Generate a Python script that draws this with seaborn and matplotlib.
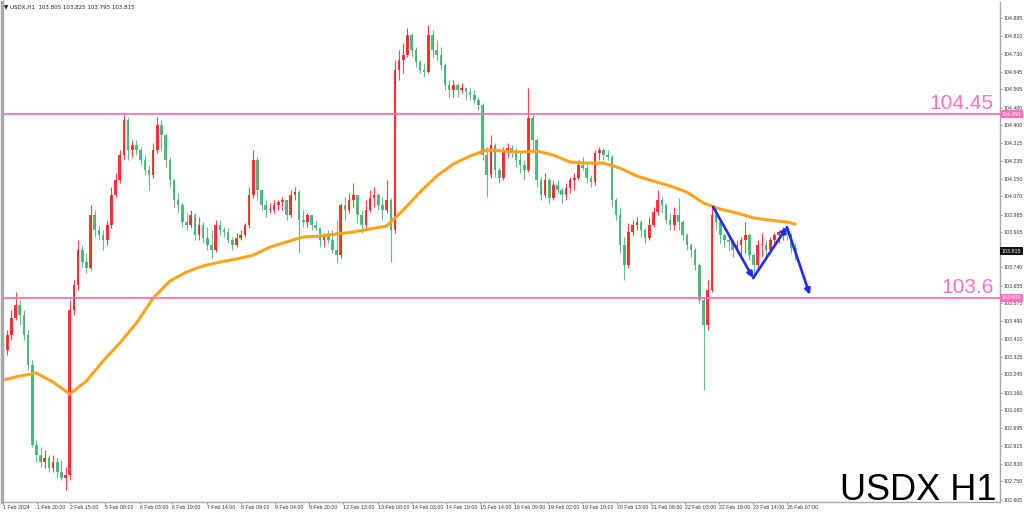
import matplotlib
matplotlib.use("Agg")
import matplotlib.pyplot as plt
import pandas as pd
import seaborn as sns

# --- candle data (2-hour steps) ---
first_open = 103.302
closes = [103.358, 103.427, 103.506, 103.566, 103.520, 103.427, 103.288, 102.918, 102.872, 102.839,
          102.858, 102.811, 102.839, 102.793, 102.765, 102.779, 103.543, 103.659, 103.821, 103.765,
          103.737, 103.983, 103.913, 103.890, 103.867, 103.936, 104.075, 104.145, 104.260, 104.422,
          104.284, 104.307, 104.284, 104.237, 104.191, 104.168, 104.284, 104.399, 104.353, 104.237,
          104.145, 104.052, 104.029, 103.950, 103.936, 103.983, 103.890, 103.936, 103.876, 103.844,
          103.821, 103.936, 103.913, 103.904, 103.867, 103.844, 103.876, 103.890, 103.936, 104.075,
          104.237, 104.098, 104.029, 104.006, 104.006, 104.029, 104.043, 104.052, 103.983, 104.075,
          104.089, 103.959, 103.950, 103.983, 103.936, 103.922, 103.867, 103.890, 103.867, 103.821,
          103.797, 104.029, 104.006, 104.052, 104.075, 103.983, 103.936, 104.006, 104.061, 104.075,
          104.029, 104.006, 104.052, 103.913, 104.654, 104.700, 104.723, 104.816, 104.747, 104.691,
          104.654, 104.645, 104.816, 104.747, 104.723, 104.677, 104.585, 104.561, 104.585, 104.561,
          104.571, 104.552, 104.538, 104.515, 104.492, 104.260, 104.168, 104.307, 104.191, 104.154,
          104.284, 104.293, 104.284, 104.237, 104.214, 104.191, 104.432, 104.330, 104.145, 104.075,
          104.145, 104.061, 104.121, 104.098, 104.075, 104.108, 104.145, 104.154, 104.214, 104.200,
          104.154, 104.135, 104.270, 104.284, 104.260, 104.251, 104.052, 103.983, 103.844, 103.751,
          103.904, 103.936, 103.950, 103.913, 103.876, 103.936, 103.997, 104.052, 104.029, 103.959,
          103.936, 103.983, 103.950, 103.890, 103.844, 103.821, 103.751, 103.589, 103.473, 103.635,
          103.983, 103.950, 103.890, 103.867, 103.858, 103.821, 103.844, 103.867, 103.890, 103.797,
          103.751, 103.844, 103.844, 103.821, 103.867, 103.890, 103.904, 103.913, 103.890, 103.830,
          103.815]
highs = [103.390, 103.450, 103.543, 103.626, 103.589, 103.543, 103.450, 103.311, 102.941, 102.909,
         102.895, 102.872, 102.872, 102.858, 102.848, 102.816, 103.589, 103.682, 103.867, 103.844,
         103.807, 104.029, 104.006, 103.936, 103.913, 103.959, 104.112, 104.177, 104.284, 104.446,
         104.436, 104.330, 104.330, 104.297, 104.260, 104.214, 104.316, 104.436, 104.422, 104.362,
         104.251, 104.154, 104.085, 104.038, 103.992, 104.006, 103.992, 103.973, 103.950, 103.927,
         103.913, 103.959, 103.959, 103.927, 103.922, 103.881, 103.899, 103.913, 103.946, 104.112,
         104.284, 104.251, 104.098, 104.052, 104.038, 104.052, 104.052, 104.066, 104.052, 104.098,
         104.112, 104.098, 104.006, 103.992, 103.983, 103.959, 103.927, 103.899, 103.913, 103.913,
         103.959, 104.038, 104.066, 104.085, 104.131, 104.075, 104.006, 104.052, 104.098, 104.112,
         104.085, 104.066, 104.145, 104.061, 104.700, 104.747, 104.779, 104.848, 104.825, 104.760,
         104.700, 104.686, 104.862, 104.839, 104.793, 104.760, 104.686, 104.608, 104.608, 104.594,
         104.594, 104.575, 104.575, 104.561, 104.529, 104.501, 104.297, 104.353, 104.316, 104.205,
         104.297, 104.316, 104.307, 104.293, 104.270, 104.237, 104.571, 104.446, 104.339, 104.159,
         104.177, 104.154, 104.145, 104.145, 104.112, 104.131, 104.159, 104.177, 104.237, 104.251,
         104.214, 104.168, 104.284, 104.297, 104.293, 104.284, 104.260, 104.061, 104.020, 103.881,
         103.946, 103.959, 103.973, 103.959, 103.922, 103.973, 104.020, 104.098, 104.066, 104.038,
         103.992, 104.020, 104.061, 103.959, 103.899, 103.853, 103.830, 103.760, 103.603, 103.682,
         104.029, 104.020, 103.959, 103.899, 103.881, 103.867, 103.867, 103.881, 103.950, 103.899,
         103.807, 103.867, 103.899, 103.867, 103.881, 103.899, 103.913, 103.927, 103.927, 103.899,
         103.853]
lows = [103.265, 103.335, 103.404, 103.497, 103.473, 103.404, 103.265, 102.909, 102.839, 102.816,
        102.811, 102.793, 102.793, 102.765, 102.756, 102.710, 102.756, 103.520, 103.635, 103.742,
        103.714, 103.728, 103.881, 103.867, 103.821, 103.844, 103.922, 104.066, 104.131, 104.237,
        104.237, 104.251, 104.260, 104.214, 104.168, 104.098, 104.154, 104.270, 104.284, 104.205,
        104.112, 104.020, 103.992, 103.927, 103.913, 103.922, 103.867, 103.867, 103.853, 103.821,
        103.784, 103.811, 103.890, 103.881, 103.853, 103.821, 103.834, 103.867, 103.881, 103.922,
        104.061, 104.052, 104.006, 103.973, 103.992, 103.992, 104.006, 104.006, 103.959, 103.973,
        104.052, 103.807, 103.927, 103.927, 103.913, 103.913, 103.834, 103.834, 103.853, 103.807,
        103.760, 103.784, 103.959, 103.992, 104.020, 103.946, 103.899, 103.922, 103.997, 104.020,
        104.006, 103.959, 103.992, 103.765, 103.899, 104.608, 104.640, 104.714, 104.714, 104.668,
        104.640, 104.622, 104.640, 104.714, 104.700, 104.654, 104.561, 104.529, 104.529, 104.529,
        104.547, 104.515, 104.515, 104.501, 104.469, 104.237, 104.066, 104.154, 104.159, 104.131,
        104.145, 104.251, 104.251, 104.205, 104.177, 104.145, 104.182, 104.270, 104.112, 104.052,
        104.066, 104.038, 104.052, 104.085, 104.038, 104.052, 104.085, 104.098, 104.145, 104.191,
        104.131, 104.112, 104.121, 104.237, 104.237, 104.237, 104.020, 103.959, 103.807, 103.682,
        103.737, 103.890, 103.913, 103.881, 103.853, 103.867, 103.927, 103.983, 103.992, 103.946,
        103.913, 103.913, 103.913, 103.867, 103.821, 103.788, 103.728, 103.575, 103.173, 103.450,
        103.626, 103.913, 103.853, 103.834, 103.821, 103.788, 103.807, 103.788, 103.807, 103.774,
        103.691, 103.737, 103.788, 103.788, 103.811, 103.844, 103.853, 103.867, 103.867, 103.807,
        103.774]

# moving average, read every 4 candles
ma_idx = list(range(0, 189, 4)) + [190]
ma_vals = [103.219, 103.237, 103.251, 103.209, 103.154, 103.214, 103.307, 103.390, 103.483, 103.598,
           103.677, 103.719, 103.747, 103.765, 103.779, 103.797, 103.834, 103.858, 103.881, 103.885,
           103.895, 103.904, 103.918, 103.932, 104.006, 104.089, 104.163, 104.219, 104.256, 104.284,
           104.279, 104.274, 104.279, 104.260, 104.228, 104.223, 104.223, 104.200, 104.163, 104.140,
           104.117, 104.089, 104.038, 104.010, 103.992, 103.969, 103.959, 103.950, 103.941]

time_ticks = [0, 8.2, 16.1, 24.5, 32.9, 40.5, 48.9, 57.1, 65.2, 73.4, 81.5, 89.9,
              98.1, 106.2, 114.4, 122.5, 130.7, 138.9, 147.2, 155.4, 163.5, 171.7, 179.9, 188.0]
time_labels = ["1 Feb 2024", "1 Feb 20:00", "2 Feb 15:00", "5 Feb 08:00", "6 Feb 03:00",
               "6 Feb 19:00", "7 Feb 14:00", "8 Feb 09:00", "9 Feb 04:00", "9 Feb 20:00",
               "12 Feb 13:00", "13 Feb 08:00", "14 Feb 03:00", "14 Feb 19:00", "15 Feb 14:00",
               "16 Feb 09:00", "19 Feb 02:00", "19 Feb 18:00", "20 Feb 13:00", "21 Feb 08:00",
               "22 Feb 03:00", "22 Feb 19:00", "23 Feb 14:00", "26 Feb 07:00"]
price_ticks = [104.895, 104.810, 104.730, 104.645, 104.565, 104.480, 104.400, 104.315, 104.235,
               104.150, 104.070, 103.985, 103.905, 103.740, 103.655, 103.575, 103.490, 103.410,
               103.325, 103.245, 103.160, 103.080, 102.995, 102.915, 102.830, 102.750, 102.665]

levels = [104.45, 103.6]
level_texts = ["104.45", "103.6"]
last_price = 103.815
zigzag_x = [170.3, 179.9, 188.0, 193.5]
zigzag_y = [104.020, 103.691, 103.927, 103.613]

UP = "#ff2222"
DOWN = "#45b374"
PINK = "#ff6fbf"

df = pd.DataFrame({"close": closes, "high": highs, "low": lows})
df["open"] = [first_open] + closes[:-1]
df["idx"] = range(len(df))
df["up"] = df["close"] >= df["open"]
df["color"] = df["up"].map({True: UP, False: DOWN})

sns.set_style("white")
plt.rcParams["font.family"] = ["Liberation Sans", "DejaVu Sans"]

fig = plt.figure(figsize=(10.24, 5.14), dpi=100)
ax = fig.add_axes([2 / 1024, 12 / 514, 998 / 1024, 500 / 514])

# candles
ax.vlines(df["idx"], df["low"], df["high"], colors=df["color"], lw=0.8, alpha=0.85)
ax.bar(df["idx"], (df["close"] - df["open"]).abs().clip(lower=0.004),
       bottom=df[["open", "close"]].min(axis=1), width=0.62, color=df["color"],
       alpha=0.9, linewidth=0)

# moving average
sns.lineplot(x=ma_idx, y=ma_vals, ax=ax, color="#ffa31a", lw=2.2)

# support / resistance
for lv, txt in zip(levels, level_texts):
    ax.axhline(lv, color=PINK, lw=1.3)
    ax.text(0.9935, lv + 0.022, txt, transform=ax.get_yaxis_transform(), ha="right",
            va="baseline", fontsize=15, color=PINK)
    ax.text(1.002, lv, f"{lv:.3f}", transform=ax.get_yaxis_transform(), ha="left",
            va="center", fontsize=3.8, color="white",
            bbox=dict(boxstyle="square,pad=0.3", fc=PINK, ec="none"))

ax.text(1.002, last_price, f"{last_price:.3f}", transform=ax.get_yaxis_transform(),
        ha="left", va="center", fontsize=3.8, color="white",
        bbox=dict(boxstyle="square,pad=0.3", fc="#111111", ec="none"))

# zigzag projection
for k in range(len(zigzag_x) - 1):
    ax.annotate("", xy=(zigzag_x[k + 1], zigzag_y[k + 1]), xytext=(zigzag_x[k], zigzag_y[k]),
                arrowprops=dict(arrowstyle="-|>", color="#1d2cf0", lw=1.9,
                                mutation_scale=8, shrinkA=0, shrinkB=0))

ax.set_xlim(-0.25, 239.1)
ax.set_ylim(102.654, 104.969)

ax.yaxis.tick_right()
ax.set_yticks(price_ticks)
ax.set_yticklabels([f"{p:.3f}" for p in price_ticks])
ax.set_xticks(time_ticks)
ax.set_xticklabels(time_labels, ha="left")
ax.tick_params(axis="both", labelsize=3.8, labelcolor="#333333", color="#777777",
               length=1.5, width=0.6, pad=1.0, direction="out")
ax.tick_params(axis="y", right=True, left=False)
ax.tick_params(axis="x", bottom=True)
ax.set_xlabel("")
ax.set_ylabel("")

for side in ["left", "right", "bottom"]:
    ax.spines[side].set_color("#a8a8a8")
ax.spines["left"].set_linewidth(2.5)
ax.spines["right"].set_linewidth(1.0)
ax.spines["bottom"].set_linewidth(1.0)
ax.spines["top"].set_visible(False)

fig.text(4 / 1024, 1 - 7 / 514, "\u25bc USDX,H1  103.805 103.825 103.795 103.815",
         fontsize=4.0, color="#222222", va="center", family=["DejaVu Sans"])
fig.text(996 / 1024, 14 / 514, "USDX H1", fontsize=26, color="black",
         ha="right", va="baseline")

plt.savefig("out.png", dpi=100)
plt.close()
